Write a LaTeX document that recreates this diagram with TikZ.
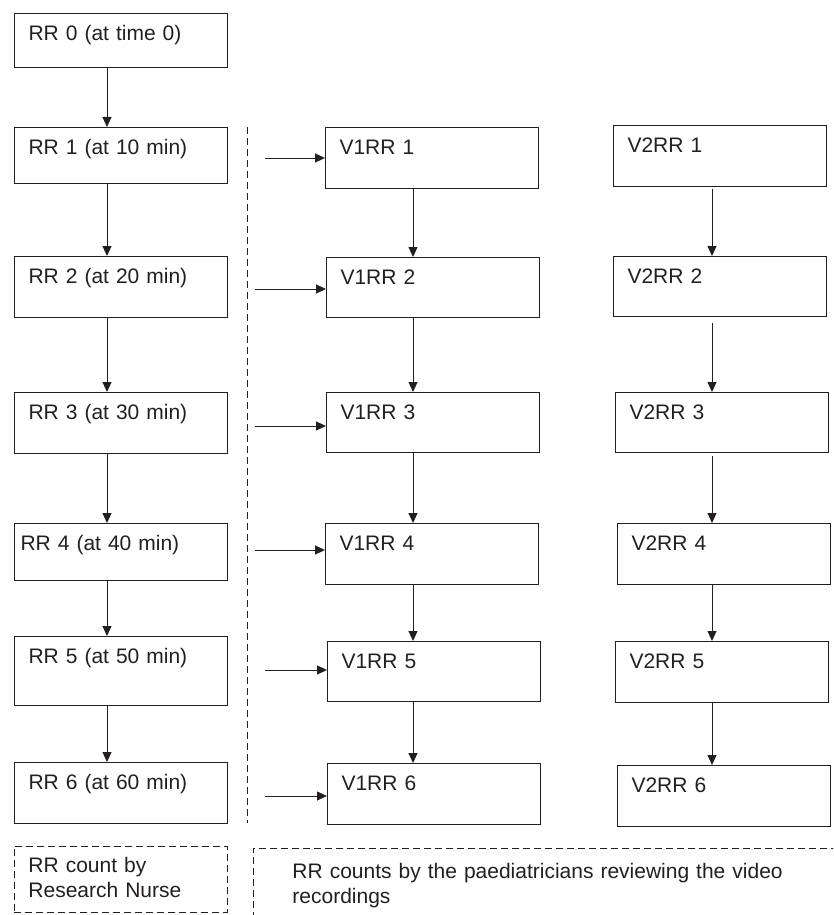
\documentclass[tikz,border=0pt]{standalone}
\usepackage{fontspec}
\setmainfont{Liberation Sans}
\usetikzlibrary{arrows.meta}
\definecolor{ink}{RGB}{35,31,32}
\tikzset{
 box/.style={draw=ink, line width=1.1pt, anchor=north west, inner xsep=14pt, inner ysep=0pt,
   text width=185pt, align=left, text height=27pt, font=\fontsize{21}{25}\selectfont, text=ink},
 arr/.style={draw=ink, line width=0.9pt, -{Triangle[length=10pt,width=9pt]}},
 dashline/.style={draw=ink, line width=0.9pt, dash pattern=on 7pt off 4pt},
}
\begin{document}
\begin{tikzpicture}[x=1pt,y=-1pt]
\useasboundingbox (0,0) rectangle (833,915);
\clip (0,0) rectangle (833,915);
% column coordinates
\coordinate (cL) at (107,0);
\coordinate (cM) at (413,0);
\coordinate (cR) at (712,0);
% left column
\node[box, text depth=27pt] (rr0) at (14,13) {RR 0 (at time 0)};
\node[box, text depth=29pt] (rr1) at (14,127) {RR 1 (at 10 min)};
\node[box, text depth=34pt] (rr2) at (14,256) {RR 2 (at 20 min)};
\node[box, text depth=34pt] (rr3) at (14,392) {RR 3 (at 30 min)};
\node[box, text depth=30pt] (rr4) at (14,523) {\hspace*{-8pt}RR 4 (at 40 min)};
\node[box, text depth=42pt] (rr5) at (14,636) {RR 5 (at 50 min)};
\node[box, text depth=34pt] (rr6) at (14,762) {RR 6 (at 60 min)};
% middle column
\node[box, text depth=34pt] (v11) at (325,127) {V1RR 1};
\node[box, text depth=33pt] (v12) at (326,257) {V1RR 2};
\node[box, text depth=33pt] (v13) at (326,392) {V1RR 3};
\node[box, text depth=34pt] (v14) at (325,523) {V1RR 4};
\node[box, text depth=33pt] (v15) at (327,641) {V1RR 5};
\node[box, text depth=34pt] (v16) at (327,763) {V1RR 6};
% right column
\node[box, text depth=34pt] (v21) at (613,125) {V2RR 1};
\node[box, text depth=33pt] (v22) at (613,256) {V2RR 2};
\node[box, text depth=33pt] (v23) at (615,392) {V2RR 3};
\node[box, text depth=34pt] (v24) at (617,523) {V2RR 4};
\node[box, text depth=34pt] (v25) at (615,641) {V2RR 5};
\node[box, text depth=34pt] (v26) at (617,765) {V2RR 6};
% vertical arrows
\foreach \a/\b in {rr0/rr1,rr1/rr2,rr2/rr3,rr3/rr4,rr4/rr5,rr5/rr6}
  \draw[arr] (\a.south -| cL) -- (\b.north -| cL);
\foreach \a/\b in {v11/v12,v12/v13,v13/v14,v14/v15,v15/v16}
  \draw[arr] (\a.south -| cM) -- (\b.north -| cM);
\draw[arr, shorten <=2pt] (v21.south -| cR) -- (v22.north -| cR);
\draw[arr, shorten <=6pt] (v22.south -| cR) -- (v23.north -| cR);
\draw[arr, shorten <=3pt] (v23.south -| cR) -- (v24.north -| cR);
\draw[arr] (v24.south -| cR) -- (v25.north -| cR);
\draw[arr] (v25.south -| cR) -- (v26.north -| cR);
% horizontal arrows
\coordinate (h1) at (265,158);
\coordinate (h2) at (255,289);
\coordinate (h3) at (255,426);
\coordinate (h4) at (255,550);
\coordinate (h5) at (265,670);
\coordinate (h6) at (265,796);
\draw[arr] (h1) -- (h1 -| v11.west);
\draw[arr] (h2) -- (h2 -| v12.west);
\draw[arr] (h3) -- (h3 -| v13.west);
\draw[arr] (h4) -- (h4 -| v14.west);
\draw[arr] (h5) -- (h5 -| v15.west);
\draw[arr] (h6) -- (h6 -| v16.west);
% dashed separator
\coordinate (sepT) at (247,127);
\coordinate (sepB) at (247,823);
\draw[dashline] (sepT) -- (sepB);
% legend
\node[box, dashline, text height=26pt, text depth=40pt] (legL) at (14,846) {RR count by\\Research Nurse};
\node[box, dashline, inner xsep=39pt, text width=560pt, text height=30pt, text depth=60pt] (legR) at (253,848)
  {RR counts by the paediatricians reviewing the video\\recordings};
\end{tikzpicture}
\end{document}
